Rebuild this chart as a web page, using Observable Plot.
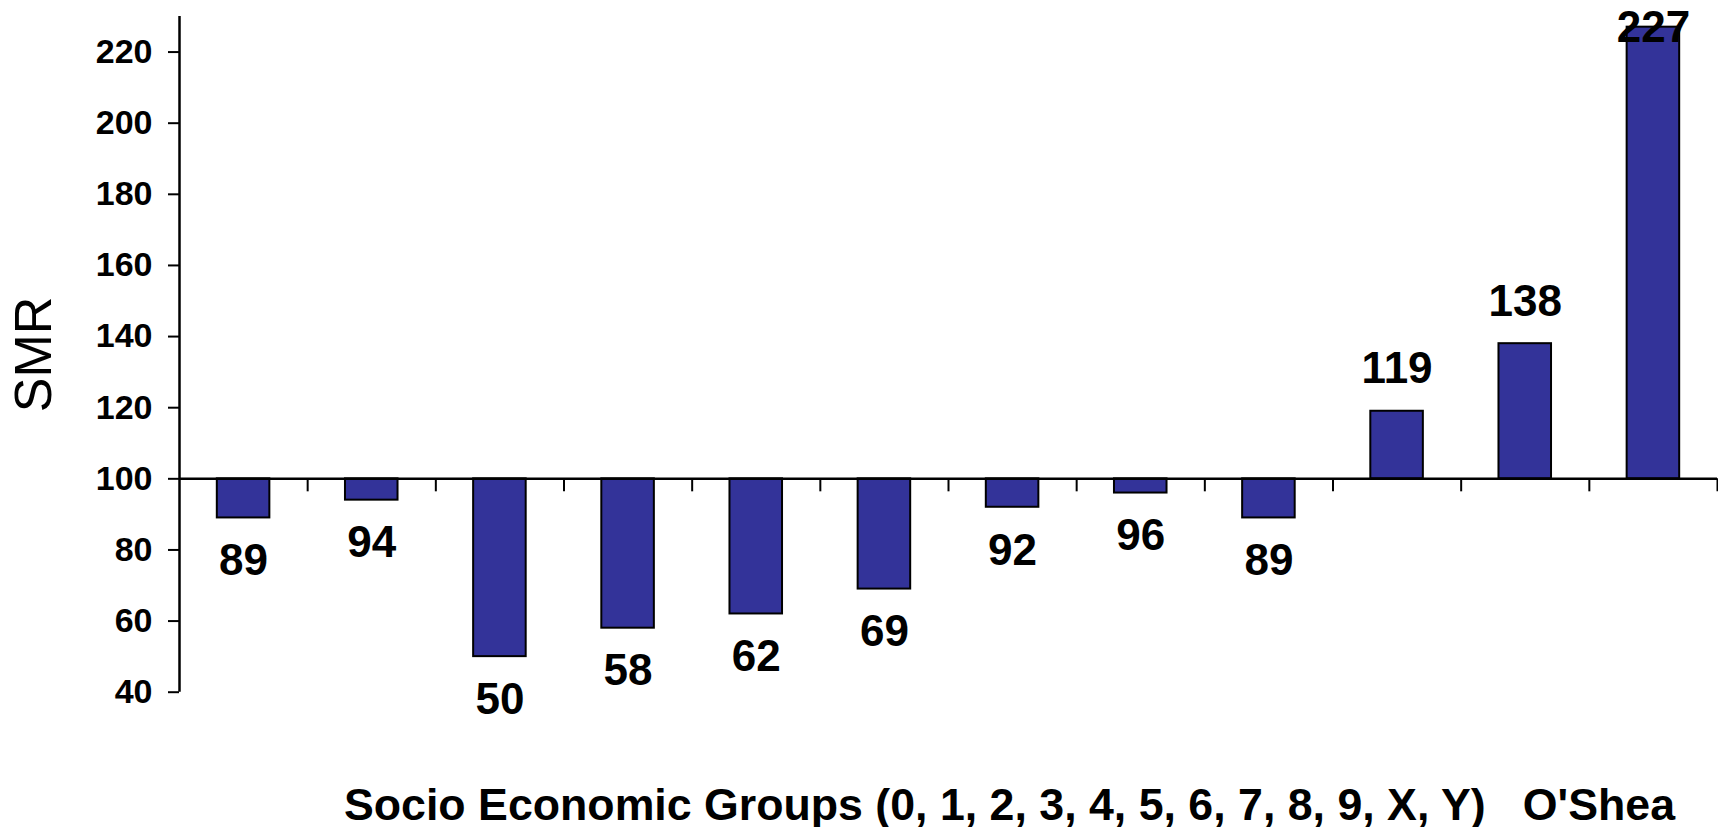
<!DOCTYPE html>
<html><head><meta charset="utf-8">
<script src="https://cdn.jsdelivr.net/npm/d3@7"></script>
<script src="https://cdn.jsdelivr.net/npm/@observablehq/plot@0.6"></script>
<style>
body{margin:0;background:#fff;font-family:"Liberation Sans",Arial,sans-serif;}
#chart svg{display:block;}
#cap{font-weight:bold;font-size:44.7px;line-height:45px;white-space:pre;padding-left:344px;margin-top:32px;color:#000;font-family:"Liberation Sans",Arial,sans-serif;}
</style></head><body><div id="chart"></div><div id="cap"></div>
<script>
const groups = ["0","1","2","3","4","5","6","7","8","9","X, Y","O'Shea"];
const smr = [89, 94, 50, 58, 62, 69, 92, 96, 89, 119, 138, 227];
const yTicks = [40, 60, 80, 100, 120, 140, 160, 180, 200, 220];
const yDomain = [40, 230];
const baseline = 100;
const xLabel = "Socio Economic Groups (0, 1, 2, 3, 4, 5, 6, 7, 8, 9, X, Y)   O'Shea";
const yLabel = "SMR";

const data = groups.map((g, i) => ({g, i, v: smr[i]}));
const barHalf = 0.205;
const labelCap = 215;

const chart = Plot.plot({
  width: 1718, height: 750,
  marginLeft: 179, marginRight: 1, marginTop: 16, marginBottom: 58.3,
  style: {fontFamily: "Liberation Sans, Arial, sans-serif", color: "#000", background: "#fff", overflow: "visible"},
  x: {domain: [0, groups.length], axis: null},
  y: {domain: yDomain, axis: null},
  marks: [
    Plot.axisY(yTicks, {tickSize: 11, tickPadding: 16, fontSize: 34, fontWeight: "bold", strokeWidth: 2, label: null, stroke: "#000", fill: "#000"}),
    Plot.rect(data, {x1: d => d.i + 0.5 - barHalf, x2: d => d.i + 0.5 + barHalf, y1: baseline, y2: "v", fill: "#333399", stroke: "#000", strokeWidth: 2}),
    Plot.ruleY([baseline], {stroke: "#000", strokeWidth: 2.5}),
    Plot.ruleX(d3.range(1, groups.length + 1), {y1: baseline, y2: baseline, insetBottom: -13, stroke: "#000", strokeWidth: 2}),
    Plot.ruleX([0], {stroke: "#000", strokeWidth: 2.5}),
    Plot.text(data.filter(d => d.v >= baseline), {x: d => d.i + 0.5, y: d => Math.min(d.v, labelCap), text: d => String(d.v), lineAnchor: "bottom", dy: -28, fontSize: 44, fontWeight: "bold", fill: "#000"}),
    Plot.text(data.filter(d => d.v < baseline), {x: d => d.i + 0.5, y: "v", text: d => String(d.v), lineAnchor: "top", dy: 26, fontSize: 44, fontWeight: "bold", fill: "#000"}),
    Plot.text([yLabel], {frameAnchor: "left", text: d => d, rotate: -90, dx: -145, textAnchor: "middle", fontSize: 52, fill: "#000"})
  ]
});
document.getElementById("chart").appendChild(chart);
document.getElementById("cap").textContent = xLabel;
</script></body></html>
